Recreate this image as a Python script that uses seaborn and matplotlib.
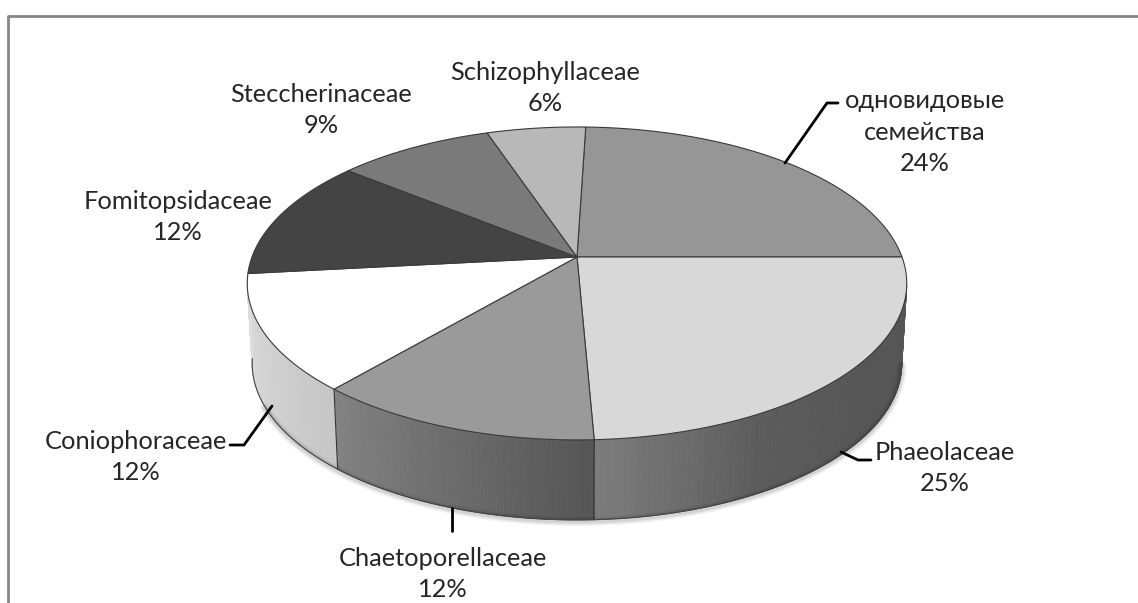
import numpy as np
import seaborn as sns
import matplotlib.pyplot as plt

# Families and their shares (%), clockwise from the top of the pie
families = ["одновидовые\nсемейства", "Phaeolaceae", "Chaetoporellaceae", "Coniophoraceae",
            "Fomitopsidaceae", "Steccherinaceae", "Schizophyllaceae"]
shares = [24.5, 24.3, 12, 12, 12.5, 9, 5.7]
percent_labels = ["24%", "25%", "12%", "12%", "12%", "9%", "6%"]

# Colours of the top faces
top_colors = ["#969696", "#d8d8d8", "#9a9a9a", "#ffffff", "#444444", "#7a7a7a", "#b8b8b8"]

# Side wall gradients from left to right, only for the slices seen from the front
wall_colors = {1: ["#7c7c7c", "#5c5c5c", "#555555", "#555555"],
               2: ["#828282", "#6c6c6c", "#555555"],
               3: ["#dedede", "#c6c6c6"]}

# Label centres in pixels and leader lines
label_x = [925, 945, 443, 136, 178, 321, 545]
label_y = [132, 468, 574, 457, 217, 110, 88]
leaders = [[(785, 163), (827, 103), (838, 103)],
           [(841, 452), (858, 460), (871, 460)],
           [(452, 508), (452, 531)],
           [(272, 406), (244, 445), (230, 445)]]

sns.set_theme(style="white")
plt.rcParams['font.family'] = ['Lato', 'Noto Sans']

# Pie geometry in pixels: apex, radii, perspective
x0, y0 = 577, 257
rx, ry, persp = 325, 152, 0.169
depth = 80
start = 1.8


def rim(angle, shrink=1.0, drop=0):
    a = np.radians(angle)
    s = 1 / (1 + persp * np.cos(a))
    return x0 + rx * np.sin(a) * s * shrink, y0 - ry * np.cos(a) * s + drop


fig, ax = plt.subplots(figsize=(11.38, 6.03), dpi=100)
fig.subplots_adjust(0, 0, 1, 1)
ax.set_xlim(0, 1138)
ax.set_ylim(603, 0)
ax.axis("off")

# Frame, open at the bottom and on the right
ax.plot([8.5, 8.5, 1138], [603, 15.5, 15.5], color="#868686", lw=2)

edges = start + np.cumsum([0] + shares) * 3.6

# Soft shadow under the wall
t = np.linspace(100, 245, 200)
sx, sy = rim(t, 0.985, depth)
for lw, alpha in [(7, 0.04), (5, 0.06), (3, 0.08)]:
    ax.plot(sx, sy + 1.5, color="black", lw=lw, alpha=alpha)

# Side walls, drawn as thin strips so that the gradient shows
for i, cols in wall_colors.items():
    a0, a1 = max(edges[i], 100), min(edges[i + 1], 268)
    t = np.linspace(a0, a1, 90)
    pal = sns.blend_palette(cols, len(t) - 1)[::-1]
    for j in range(len(t) - 1):
        xa, ya = rim(t[j:j + 2])
        xb, yb = rim(t[j:j + 2], 0.985, depth)
        ax.fill(np.r_[xa, xb[::-1]], np.r_[ya, yb[::-1]], color=pal[j], lw=0.6)
    # Edge between two walls
    if edges[i] > 100:
        xa, ya = rim(edges[i])
        xb, yb = rim(edges[i], 0.985, depth)
        ax.plot([xa, xb], [ya, yb], color="#333333", lw=0.8)

t = np.linspace(100, 262, 200)
ax.plot(*rim(t, 0.985, depth), color="#444444", lw=0.8)

# Top faces
for i, c in enumerate(top_colors):
    t = np.linspace(edges[i], edges[i + 1], 80)
    xa, ya = rim(t)
    ax.fill(np.r_[x0, xa], np.r_[y0, ya], facecolor=c, edgecolor="#3a3a3a", lw=0.8, joinstyle="round")

# Leader lines
for pts in leaders:
    ax.plot(*zip(*pts), color="black", lw=2, solid_joinstyle="miter")

# Labels
for name, pct, lx, ly in zip(families, percent_labels, label_x, label_y):
    ax.text(lx, ly, f"{name}\n{pct}", ha="center", va="center", fontsize=18.3,
            color="#262626", linespacing=1.45)

plt.savefig("out.png", dpi=100)
